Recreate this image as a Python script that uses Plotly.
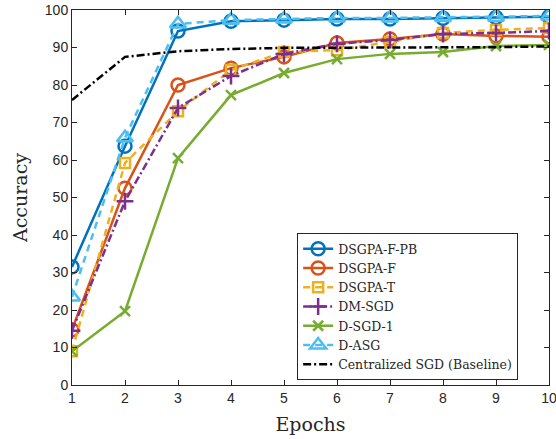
import plotly.graph_objects as go

epochs = [1, 2, 3, 4, 5, 6, 7, 8, 9, 10]
dsgpa_f_pb = [31.5, 63.7, 94.4, 97.0, 97.3, 97.6, 97.6, 97.8, 98.0, 98.2]
dsgpa_f = [14.7, 52.5, 80.0, 84.5, 87.5, 91.2, 92.3, 93.6, 93.1, 92.9]
dsgpa_t = [9.0, 59.2, 73.0, 84.0, 88.8, 89.3, 91.5, 93.9, 94.7, 95.2]
dm_sgd = [14.5, 49.0, 73.9, 82.4, 88.3, 91.0, 92.0, 93.6, 93.9, 94.4]
d_sgd_1 = [9.0, 19.7, 60.5, 77.3, 83.2, 86.9, 88.3, 88.8, 90.4, 90.7]
d_asg = [23.5, 65.9, 96.3, 97.3, 97.6, 97.9, 97.9, 98.0, 98.1, 98.4]
central_sgd = [76.0, 87.5, 89.0, 89.6, 89.9, 89.9, 90.0, 90.1, 90.1, 90.3]

x_ticks = [1, 2, 3, 4, 5, 6, 7, 8, 9, 10]
y_ticks = [0, 10, 20, 30, 40, 50, 60, 70, 80, 90, 100]

series = [
    ("DSGPA-F-PB", dsgpa_f_pb, "#0072BD", "solid", "circle-open", 13),
    ("DSGPA-F", dsgpa_f, "#D95319", "solid", "circle-open", 13),
    ("DSGPA-T", dsgpa_t, "#EDB120", "7px,5px", "square-open", 10),
    ("DM-SGD", dm_sgd, "#7E2F8E", "8px,3px,2px,3px", "cross-thin-open", 12),
    ("D-SGD-1", d_sgd_1, "#77AC30", "solid", "x-thin-open", 10),
    ("D-ASG", d_asg, "#4DBEEE", "7px,5px", "triangle-up-open", 14),
]

fig = go.Figure()
for name, vals, color, dash, sym, size in series:
    fig.add_trace(go.Scatter(
        x=epochs, y=vals, name=name, mode="lines+markers",
        line=dict(color=color, width=2.5, dash=dash),
        marker=dict(symbol=sym, size=size, color=color, line=dict(width=2.5, color=color)),
    ))
fig.add_trace(go.Scatter(
    x=epochs, y=central_sgd, name="Centralized SGD (Baseline)", mode="lines",
    line=dict(color="black", width=2.5, dash="8px,3px,2px,3px"),
))

axis_common = dict(
    showline=True, linecolor="#262626", linewidth=1, mirror="ticks",
    ticks="inside", ticklen=5, tickcolor="#262626", showgrid=False, zeroline=False,
    tickfont=dict(family="Liberation Sans, Arial", size=14, color="#262626"),
    automargin=False, ticklabeloverflow="allow",
)
fig.update_xaxes(range=[1, 10], tickvals=x_ticks,
                 title=dict(text="Epochs", font=dict(family="DejaVu Serif", size=19, color="#262626"), standoff=12),
                 **axis_common)
fig.update_yaxes(range=[0, 100], tickvals=y_ticks,
                 title=dict(text="Accuracy", font=dict(family="DejaVu Serif", size=19, color="#262626"), standoff=12),
                 **axis_common)

fig.update_layout(
    width=556, height=439,
    margin=dict(l=72, r=7, t=10, b=54),
    plot_bgcolor="white", paper_bgcolor="white",
    legend=dict(x=0.472, y=0.405, xanchor="left", yanchor="top",
                bgcolor="white", bordercolor="#262626", borderwidth=1,
                font=dict(family="DejaVu Serif", size=12.5, color="#262626"),
                tracegroupgap=0, itemwidth=30),
)
fig.write_html("out.html", config={"displayModeBar": False},
               post_script="document.body.style.margin='0';document.body.style.padding='0';")
